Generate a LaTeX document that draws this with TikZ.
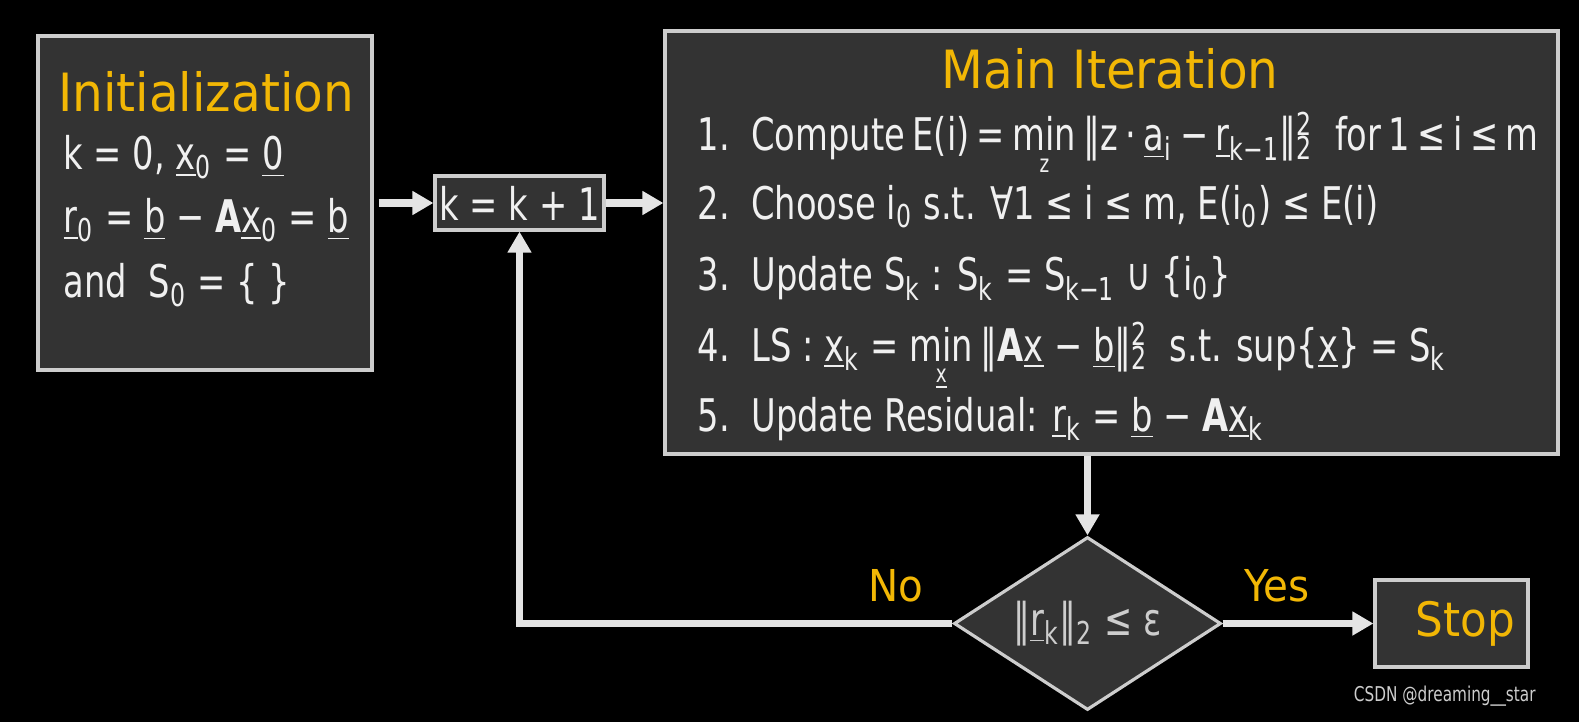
\documentclass[tikz,border=0pt]{standalone}
\usepackage{fontspec}
\setmainfont{DejaVu Sans}
\newfontfamily\bodyfont{DejaVu Sans}[FakeStretch=0.75]
\newfontfamily\headfont{DejaVu Sans}[FakeStretch=0.92]
\usepackage{xcolor}
\definecolor{boxgray}{RGB}{51,51,51}
\definecolor{edgegray}{RGB}{205,205,205}
\definecolor{gold}{RGB}{242,183,5}
\definecolor{ink}{RGB}{240,240,240}
\definecolor{wire}{RGB}{228,228,228}
\usepackage{tikz}
\usetikzlibrary{arrows.meta,shapes.geometric,positioning}

\newcommand{\uv}[1]{\underline{#1}}
\newcommand{\sbs}[1]{\textsubscript{#1}}
\newcommand{\sqs}{\rlap{\textsuperscript{2}}\textsubscript{2}}
\newcommand{\minover}[1]{\begin{tabular}[t]{@{}c@{}}min\\[-9pt]\fontsize{7}{7}\selectfont #1\end{tabular}}

\begin{document}
\begin{tikzpicture}[
  gbox/.style={rectangle,draw=edgegray,line width=0.9pt,fill=boxgray,inner sep=0pt},
  title/.style={anchor=base,text=gold,font=\headfont\fontsize{15}{18}\selectfont},
  txt/.style={anchor=base west,text=ink,inner sep=0pt,font=\bodyfont\fontsize{12.8}{15}\selectfont},
  tag/.style={anchor=base,text=gold,font=\headfont\fontsize{12.5}{15}\selectfont},
  flow/.style={-{Triangle[length=6pt,width=6.5pt]},line width=2pt,draw=wire}
]
  % Canvas
  \fill[black] (0,0) rectangle (15.79,-7.22);
  \useasboundingbox (0,0) rectangle (15.79,-7.22);

  % Boxes
  \node[gbox,minimum width=3.34cm,minimum height=3.34cm] (init) at (2.05,-2.03) {};
  \node[gbox,minimum width=1.69cm,minimum height=0.54cm,text=ink,
        font=\bodyfont\fontsize{12.8}{15}\selectfont] (kbox) at (5.195,-2.03) {k = k + 1};
  \node[gbox,minimum width=8.93cm,minimum height=4.23cm] (main) at (11.115,-2.425) {};
  \node[diamond,aspect=1.54,draw=edgegray,line width=0.9pt,fill=boxgray,inner sep=0pt,
        minimum width=2.67cm,minimum height=1.73cm,text=edgegray,
        font=\bodyfont\fontsize{12.8}{15}\selectfont] (test) at (10.875,-6.235)
        {‖\uv{r}\sbs{k}‖\sbs{2} ≤ ε};
  \node[gbox,minimum width=1.53cm,minimum height=0.87cm,text=gold,
        font=\headfont\fontsize{13.5}{16}\selectfont] (stop) at (14.515,-6.235) {\hspace*{0.28cm}Stop};

  % Initialization
  \node[title] (ititle) at (2.06,-1.12) {Initialization};
  \node[txt] (i1) at (0.63,-1.70) {k = 0, \uv{x}\sbs{0} = \uv{0}};
  \node[txt] (i2) at (0.63,-2.33) {\uv{r}\sbs{0} = \uv{b} − \textbf{A}\uv{x}\sbs{0} = \uv{b}};
  \node[txt] (i3) at (0.63,-2.98) {and\ \ S\sbs{0} = \{ \}};

  % Main iteration
  \node[title] (mtitle) at (11.10,-0.89) {Main Iteration};
  \node[txt] (m1) at (6.97,-1.51) {\spaceskip=2.1pt plus 1pt 1.\hspace{6.1pt}Compute E(i) = \minover{z}\,‖z · \uv{a}\sbs{i} − \uv{r}\sbs{k−1}‖\sqs\hspace{4pt} for 1 ≤ i ≤ m};
  \node[txt] (m2) at (6.97,-2.19) {2.\ \ Choose i\sbs{0} s.t. ∀1 ≤ i ≤ m, E(i\sbs{0}) ≤ E(i)};
  \node[txt] (m3) at (6.97,-2.91) {3.\ \ Update S\sbs{k} : S\sbs{k} = S\sbs{k−1} ∪ \{i\sbs{0}\}};
  \node[txt] (m4) at (6.97,-3.61) {4.\ \ LS : \uv{x}\sbs{k} = \minover{\uv{x}}\,‖\textbf{A}\uv{x} − \uv{b}‖\sqs\ \ s.t. sup\{\uv{x}\} = S\sbs{k}};
  \node[txt] (m5) at (6.97,-4.31) {5.\ \ Update Residual: \uv{r}\sbs{k} = \uv{b} − \textbf{A}\uv{x}\sbs{k}};

  % Connectors
  \draw[flow,shorten <=0.05cm] (init) -- (kbox);
  \draw[flow] (kbox.east) -- (kbox.east -| main.west);
  \draw[flow] (test.north |- main.south) -- (test.north);
  \draw[flow] (test.east) -- (stop.west) node[tag,pos=0.36,yshift=0.22cm] {Yes};
  \draw[flow] (test.west) -| (kbox.south) node[tag,pos=0.065,yshift=0.22cm] {No};

  % Watermark
  \node[anchor=east,text=edgegray,font=\bodyfont\fontsize{5.8}{7}\selectfont] (mark) at (15.48,-6.96) {CSDN @dreaming\_\_star};
\end{tikzpicture}
\end{document}
